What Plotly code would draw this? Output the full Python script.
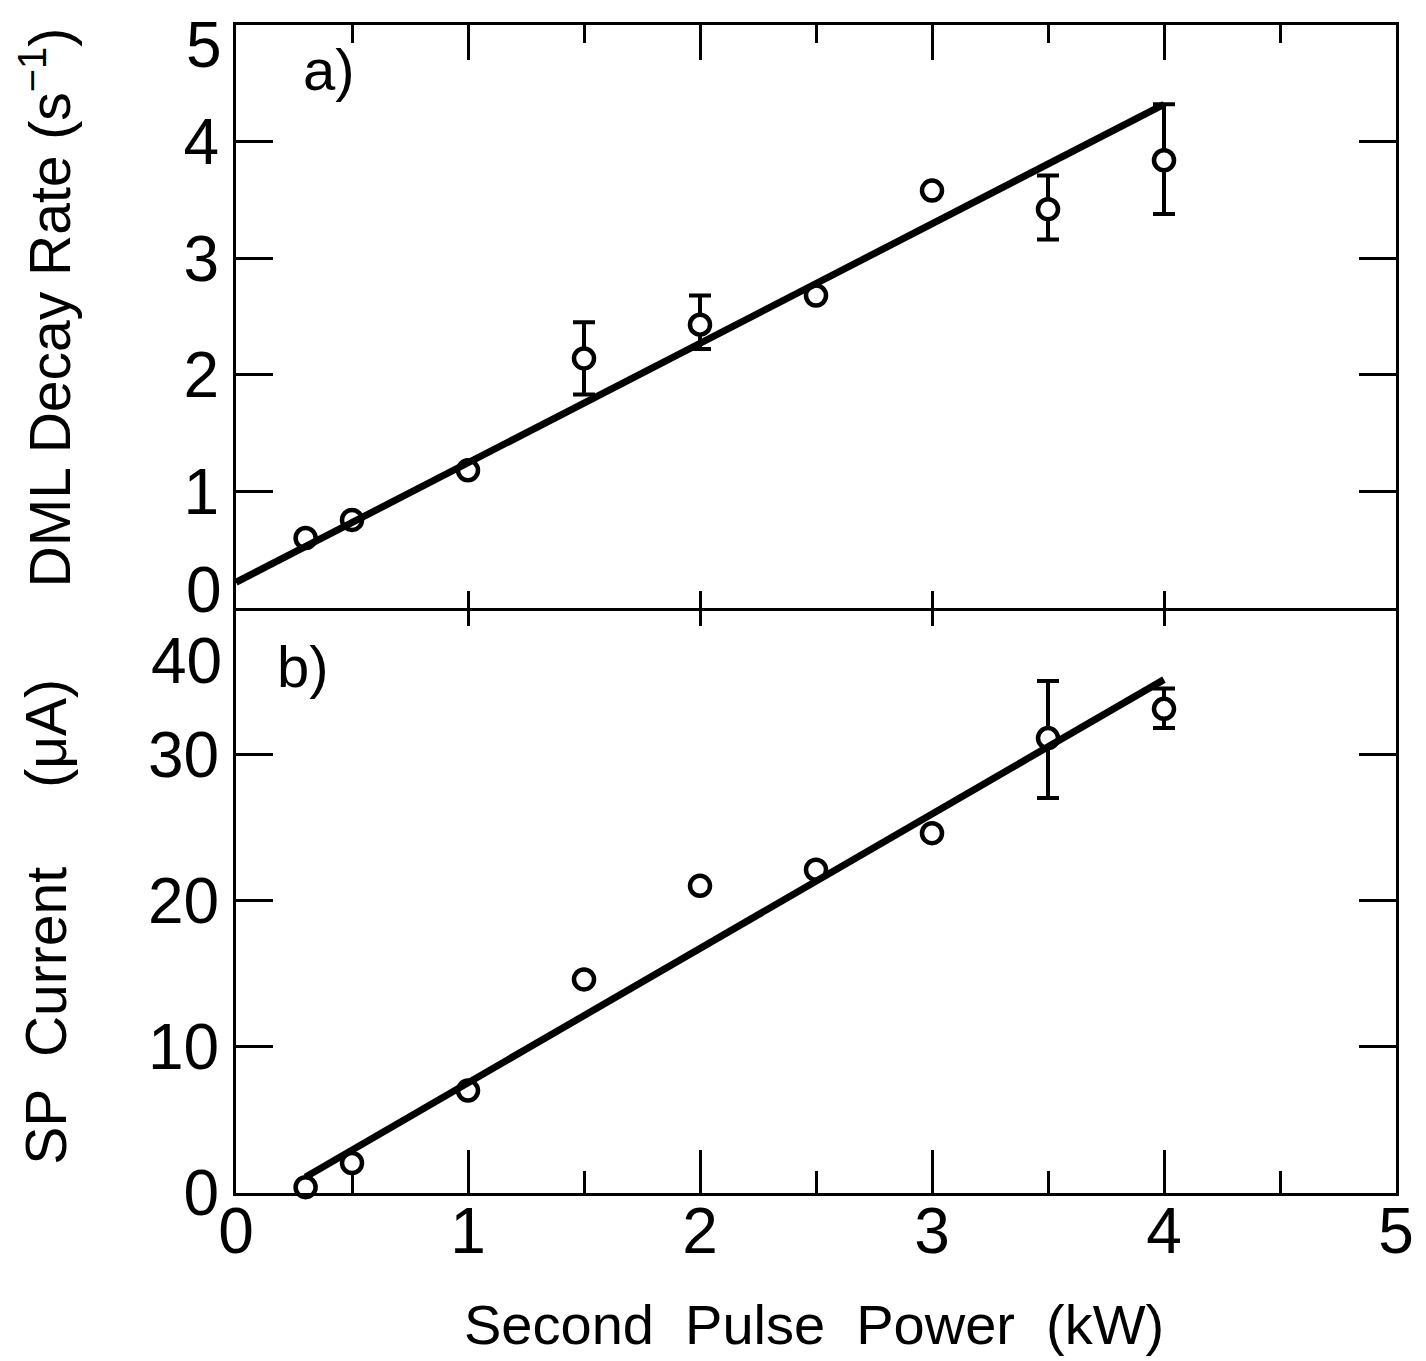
import plotly.graph_objects as go

# ---------------- data ----------------
power = [0.3, 0.5, 1.0, 1.5, 2.0, 2.5, 3.0, 3.5, 4.0]

# panel a) DML decay rate (s^-1)
rate = [0.60, 0.755, 1.18, 2.14, 2.43, 2.68, 3.58, 3.42, 3.84]
rate_err_plus = [None, None, None, 0.31, 0.25, None, None, 0.29, 0.48]
rate_err_minus = [None, None, None, 0.31, 0.21, None, None, 0.26, 0.46]
fit_a_x = [0.0, 4.0]
fit_a_y = [0.22, 4.32]

# panel b) SP current (uA)
current = [0.4, 2.05, 7.0, 14.6, 21.0, 22.1, 24.6, 31.1, 33.1]
cur_err_plus = [None, None, None, None, None, None, None, 3.9, 1.4]
cur_err_minus = [None, None, None, None, None, None, None, 4.1, 1.3]
fit_b_x = [0.3, 4.0]
fit_b_y = [1.1, 35.1]

x_ticks = [0, 1, 2, 3, 4, 5]
x_minor = [0.5, 1.5, 2.5, 3.5, 4.5]
a_ticks = [1, 2, 3, 4]
b_ticks = [0, 10, 20, 30]

FONT = "Liberation Sans"
BLK = "black"

fig = go.Figure()

marker = dict(symbol="circle", size=20, color="white", line=dict(color=BLK, width=4.5))

fig.add_trace(go.Scatter(
    x=power, y=rate, mode="markers", marker=marker, xaxis="x", yaxis="y",
    error_y=dict(type="data", symmetric=False, array=rate_err_plus,
                 arrayminus=rate_err_minus, color=BLK, thickness=4, width=11),
    cliponaxis=False, showlegend=False, hoverinfo="skip"))
fig.add_trace(go.Scatter(
    x=fit_a_x, y=fit_a_y, mode="lines", line=dict(color=BLK, width=7),
    xaxis="x", yaxis="y", showlegend=False, hoverinfo="skip"))

fig.add_trace(go.Scatter(
    x=power, y=current, mode="markers", marker=marker, xaxis="x", yaxis="y2",
    error_y=dict(type="data", symmetric=False, array=cur_err_plus,
                 arrayminus=cur_err_minus, color=BLK, thickness=4, width=11),
    cliponaxis=False, showlegend=False, hoverinfo="skip"))
fig.add_trace(go.Scatter(
    x=fit_b_x, y=fit_b_y, mode="lines", line=dict(color=BLK, width=7),
    xaxis="x", yaxis="y2", showlegend=False, hoverinfo="skip"))

# dummy traces so that the extra tick axes are drawn
for ax in ["x2", "x3", "x4"]:
    fig.add_trace(go.Scatter(x=[None], y=[None], xaxis=ax, yaxis="y",
                             showlegend=False, hoverinfo="skip"))

split = 0.5009
common = dict(showgrid=False, zeroline=False, linecolor=BLK, tickcolor=BLK,
              tickwidth=3, linewidth=3)
tickfont = dict(family=FONT, size=64, color=BLK)

fig.update_layout(
    width=1418, height=1353,
    margin=dict(l=228, r=28, t=17, b=168),
    paper_bgcolor="white", plot_bgcolor="rgba(0,0,0,0)",
    font=dict(family=FONT, color=BLK),
    xaxis=dict(domain=[0, 1], anchor="y2", range=[0, 5], showline=True,
               ticks="inside", tickvals=x_ticks, ticktext=[str(v) for v in x_ticks],
               ticklen=43, tickfont=tickfont, ticklabelstandoff=-20,
               minor=dict(tickvals=x_minor, ticks="inside", ticklen=22,
                          tickwidth=3, tickcolor=BLK),
               **common),
    xaxis2=dict(anchor="y", overlaying="x", side="top", range=[0, 5], showline=True,
                ticks="inside", tickvals=x_ticks, ticklen=35, showticklabels=False,
                minor=dict(tickvals=x_minor, ticks="inside", ticklen=18,
                           tickwidth=3, tickcolor=BLK),
                **common),
    xaxis3=dict(anchor="y", overlaying="x", side="bottom", range=[0, 5], showline=True,
                ticks="inside", tickvals=a_ticks, ticklen=17, showticklabels=False,
                **common),
    xaxis4=dict(anchor="y", overlaying="x", side="bottom", range=[0, 5], showline=False,
                ticks="outside", tickvals=a_ticks, ticklen=17, showticklabels=False,
                **common),
    yaxis=dict(domain=[split, 1], anchor="x", range=[0, 5], showline=True,
               mirror="ticks", ticks="inside", tickvals=a_ticks,
               ticktext=[str(v) for v in a_ticks], ticklen=37, tickfont=tickfont,
               ticklabelstandoff=1, **common),
    yaxis2=dict(domain=[0, split], anchor="x", range=[0, 40], showline=True,
                mirror="ticks", ticks="inside", tickvals=b_ticks,
                ticktext=[str(v) for v in b_ticks], ticklen=37, tickfont=tickfont,
                ticklabelstandoff=1, **common),
)

ann = []
# offset tick labels
ann.append(dict(text="5", xref="paper", x=0, xanchor="right", xshift=-12,
                yref="y", y=4.83, yanchor="middle", showarrow=False, font=tickfont))
ann.append(dict(text="0", xref="paper", x=0, xanchor="right", xshift=-12,
                yref="y", y=0.15, yanchor="middle", showarrow=False, font=tickfont))
ann.append(dict(text="40", xref="paper", x=0, xanchor="right", xshift=-12,
                yref="y2", y=36.4, yanchor="middle", showarrow=False, font=tickfont))
# panel labels
ann.append(dict(text="a)", xref="x", x=0.40, yref="y", y=4.62, showarrow=False,
                font=dict(family=FONT, size=58, color=BLK)))
ann.append(dict(text="b)", xref="x", x=0.29, yref="y2", y=36.0, showarrow=False,
                font=dict(family=FONT, size=58, color=BLK)))
# axis titles
ann.append(dict(text="DML Decay Rate (s<sup>−1</sup>)", xref="paper", x=-0.164,
                yref="paper", y=0.758, textangle=-90, showarrow=False,
                xanchor="center", yanchor="middle",
                font=dict(family=FONT, size=57, color=BLK)))
ann.append(dict(text="SP\u00a0\u00a0Current\u00a0\u00a0\u00a0\u00a0\u00a0(μA)", xref="paper",
                x=-0.164, yref="paper", y=0.232, textangle=-90, showarrow=False,
                xanchor="center", yanchor="middle",
                font=dict(family=FONT, size=57, color=BLK)))
ann.append(dict(text="Second\u00a0\u00a0Pulse\u00a0\u00a0Power\u00a0\u00a0(kW)", xref="paper",
                x=0.498, yref="paper", y=-0.113, showarrow=False,
                xanchor="center", yanchor="middle",
                font=dict(family=FONT, size=56, color=BLK)))
fig.update_layout(annotations=ann)

fig.write_html("out.html")
